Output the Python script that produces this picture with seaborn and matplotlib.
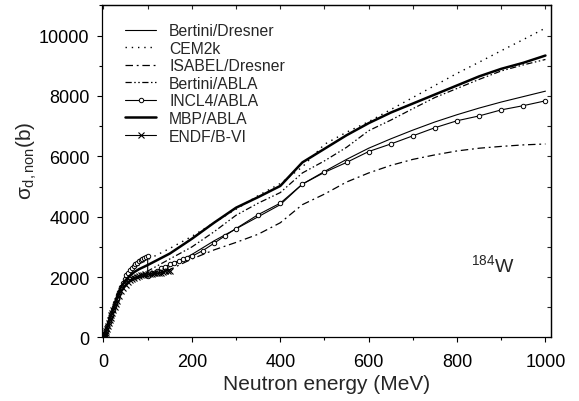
import numpy as np
import pandas as pd
import matplotlib
matplotlib.use("Agg")
import matplotlib.pyplot as plt
import seaborn as sns
from matplotlib.ticker import MultipleLocator

# ---------------- data ----------------
E_common = [0, 5, 10, 15, 20, 30, 40, 50, 60, 70, 80, 90, 100, 150, 200, 250, 300,
            350, 400, 450, 500, 550, 600, 650, 700, 750, 800, 850, 900, 950, 1000]

bertini_dresner = [0, 150, 400, 620, 820, 1280, 1600, 1780, 1900, 1970, 2010, 2040, 2060,
                   2350, 2750, 3200, 3600, 4000, 4400, 5080, 5500, 5900, 6270, 6580, 6870,
                   7140, 7380, 7600, 7800, 7980, 8160]
cem2k = [0, 180, 450, 680, 880, 1350, 1700, 1950, 2120, 2270, 2400, 2500, 2580,
         2950, 3350, 3800, 4250, 4700, 5100, 5650, 6400, 6800, 7150, 7550, 7950,
         8350, 8750, 9120, 9500, 9870, 10250]
isabel_dresner = [0, 130, 380, 580, 780, 1220, 1550, 1720, 1850, 1930, 1980, 2010, 2030,
                  2250, 2600, 2900, 3150, 3420, 3800, 4400, 4750, 5150, 5450, 5700, 5900,
                  6050, 6180, 6270, 6330, 6380, 6410]
bertini_abla = [0, 160, 420, 640, 840, 1300, 1640, 1830, 1960, 2040, 2100, 2150, 2200,
                2600, 3000, 3500, 4050, 4450, 4800, 5450, 5850, 6300, 6850, 7200, 7580,
                7950, 8250, 8550, 8830, 9030, 9210]
mbp_abla = [0, 170, 440, 660, 860, 1320, 1680, 1900, 2050, 2170, 2260, 2330, 2400,
            2780, 3270, 3800, 4300, 4650, 5020, 5800, 6250, 6700, 7100, 7450, 7750,
            8050, 8350, 8650, 8900, 9100, 9340]

E_incl4 = [0, 3, 6, 9, 12, 15, 18, 21, 24, 27, 30, 33, 36, 40, 44, 48, 52, 56, 60, 64,
           68, 72, 76, 80, 84, 88, 92, 96, 100, 100, 110, 120, 130, 140, 150, 160, 170,
           180, 190, 200, 225, 250, 275, 300, 350, 400, 450, 500, 550, 600, 650, 700,
           750, 800, 850, 900, 950, 1000]
incl4_abla = [0, 100, 250, 380, 520, 650, 780, 900, 1020, 1150, 1280, 1400, 1520, 1680,
              1820, 1950, 2060, 2150, 2230, 2300, 2370, 2430, 2480, 2530, 2570, 2600,
              2630, 2660, 2690, 2030, 2120, 2200, 2290, 2350, 2420, 2480, 2540, 2590,
              2640, 2690, 2880, 3120, 3370, 3610, 4070, 4450, 5080, 5470, 5800, 6160,
              6410, 6680, 6950, 7180, 7340, 7540, 7680, 7840]

E_endf = [0, 1, 2, 3, 4, 5, 6, 8, 10, 12, 14, 16, 18, 20, 22, 25, 28, 30, 35, 40, 45,
          50, 55, 60, 65, 70, 75, 80, 85, 90, 95, 100, 105, 110, 115, 120, 125, 130,
          135, 140, 145, 150]
endf_bvi = [0, 20, 50, 80, 120, 160, 200, 290, 390, 480, 570, 660, 740, 820, 900, 1010,
            1120, 1200, 1380, 1530, 1650, 1750, 1830, 1890, 1940, 1980, 2010, 2040, 2060,
            2080, 2090, 2100, 2100, 2110, 2120, 2130, 2140, 2150, 2170, 2190, 2200, 2210]

labels = ["Bertini/Dresner", "CEM2k", "ISABEL/Dresner", "Bertini/ABLA",
          "INCL4/ABLA", "MBP/ABLA", "ENDF/B-VI"]

# ---------------- style ----------------
sns.set_style("ticks")
plt.rcParams["font.family"] = ["Liberation Sans", "DejaVu Sans"]
plt.rcParams["mathtext.fontset"] = "custom"
plt.rcParams["mathtext.rm"] = "Liberation Sans"
plt.rcParams["mathtext.it"] = "Liberation Sans"
plt.rcParams["mathtext.bf"] = "Liberation Sans:bold"

fig = plt.figure(figsize=(5.79, 4.02), dpi=100)
ax = fig.add_axes([0.1757, 0.158, 0.7755, 0.826])

common = dict(ax=ax, color="black", estimator=None, sort=False, legend=False)

sns.lineplot(x=E_common, y=bertini_dresner, lw=0.8, linestyle="-", label=labels[0], **common)
sns.lineplot(x=E_common, y=cem2k, lw=1.0, linestyle=(0, (1, 3.5)), label=labels[1], **common)
sns.lineplot(x=E_common, y=isabel_dresner, lw=0.9, linestyle=(0, (6, 3, 1.5, 3)), label=labels[2], **common)
sns.lineplot(x=E_common, y=bertini_abla, lw=0.9, linestyle=(0, (5, 2, 1.2, 2, 1.2, 2)), label=labels[3], **common)
sns.lineplot(x=E_incl4, y=incl4_abla, lw=0.8, linestyle="-", marker="o", markersize=3.2,
             markerfacecolor="white", markeredgecolor="black", markeredgewidth=0.7,
             label=labels[4], **common)
sns.lineplot(x=E_common, y=mbp_abla, lw=1.8, linestyle="-", label=labels[5], **common)
sns.lineplot(x=E_endf, y=endf_bvi, lw=0.8, linestyle="-", marker="x", markersize=4.5,
             markeredgewidth=0.8, markeredgecolor="black", label=labels[6], **common)

ax.set_xlim(-4, 1012)
ax.set_ylim(0, 11000)
ax.xaxis.set_major_locator(MultipleLocator(200))
ax.xaxis.set_minor_locator(MultipleLocator(100))
ax.yaxis.set_major_locator(MultipleLocator(2000))
ax.yaxis.set_minor_locator(MultipleLocator(1000))
ax.tick_params(which="both", direction="out", top=False, right=False, labelsize=13,
               color="black", labelcolor="black", width=0.8)
ax.tick_params(which="major", length=3.8)
ax.tick_params(which="minor", length=2.2)
ax.tick_params(axis="x", which="major", pad=7.5)
ax.tick_params(axis="y", which="major", pad=5)
for s in ax.spines.values():
    s.set_color("black")
    s.set_linewidth(0.9)

# inward ticks on the top and right sides
sec_x = ax.secondary_xaxis("top")
sec_x.xaxis.set_major_locator(MultipleLocator(200))
sec_x.xaxis.set_minor_locator(MultipleLocator(100))
sec_x.tick_params(which="both", direction="in", length=2.6, width=0.8, labeltop=False)
sec_x.spines["top"].set_linewidth(0.9)
sec_y = ax.secondary_yaxis("right")
sec_y.yaxis.set_major_locator(MultipleLocator(2000))
sec_y.yaxis.set_minor_locator(MultipleLocator(1000))
sec_y.tick_params(which="both", direction="in", length=2.6, width=0.8, labelright=False)
sec_y.spines["right"].set_linewidth(0.9)

ax.set_xlabel("Neutron energy (MeV)", fontsize=15, labelpad=3.0)
ax.set_ylabel(r"$\sigma_{\mathrm{d,non}}$(b)", fontsize=15)
ax.yaxis.set_label_coords(-0.139, 0.535)

ax.text(831, 2200, r"$^{184}$W", fontsize=14, ha="left", va="baseline")

leg = ax.legend(loc="upper left", bbox_to_anchor=(0.052, 0.947), frameon=False,
                fontsize=11.3, handlelength=2.0, handletextpad=0.8, labelspacing=0.165,
                borderpad=0, borderaxespad=0)

fig.savefig("out.png", dpi=100, facecolor="white")
